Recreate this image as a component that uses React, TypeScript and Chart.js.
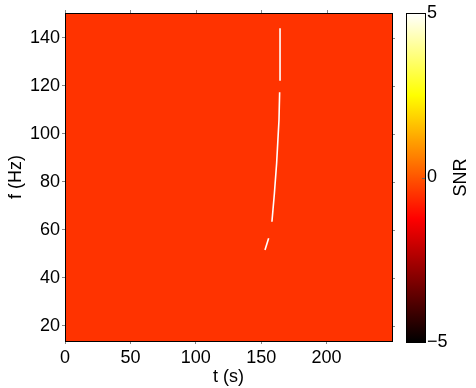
import React, { useEffect, useRef } from "react";
import { Chart, registerables } from "chart.js";

Chart.register(...registerables);

// ---- data ----
const timeTicks = [0, 50, 100, 150, 200];
const freqTicks = [20, 40, 60, 80, 100, 120, 140];
const snrTicks = [-5, 0, 5];
const timeRange = [0, 250];
const freqRange = [13.7, 150.4];
const snrRange = [-5, 5];
const backgroundSNR = -0.5;

// chirp track segments (time in s, frequency in Hz)
const seg1T = [164.4, 164.4];
const seg1F = [144.0, 122.2];
const seg2T = [164.1, 163.6, 161.8, 160.1, 158.2];
const seg2F = [117.4, 105.8, 87.8, 75.3, 63.4];
const seg3T = [155.7, 152.9];
const seg3F = [56.5, 51.6];

const FONT = { family: "'Liberation Sans', Arial, Helvetica, sans-serif", size: 18 };
const W = 476;
const H = 388;

function hot(v: number): string {
  const f = Math.min(1, Math.max(0, (v - snrRange[0]) / (snrRange[1] - snrRange[0])));
  const c = (x: number) => Math.round(255 * Math.min(1, Math.max(0, x)));
  return `rgb(${c(f / 0.375)},${c((f - 0.375) / 0.375)},${c((f - 0.75) / 0.25)})`;
}

const mainPlugin = {
  id: "mainDecor",
  beforeDatasetsDraw(chart: any) {
    const { ctx, chartArea: a } = chart;
    ctx.save();
    ctx.fillStyle = hot(backgroundSNR);
    ctx.fillRect(a.left, a.top, a.right - a.left, a.bottom - a.top);
    ctx.restore();
  },
  afterDraw(chart: any) {
    const { ctx, chartArea: a, scales } = chart;
    ctx.save();
    ctx.strokeStyle = "#888";
    ctx.lineWidth = 1;
    ctx.beginPath();
    for (const v of timeTicks) {
      const x = Math.round(scales.x.getPixelForValue(v)) + 0.5;
      ctx.moveTo(x, a.top);
      ctx.lineTo(x, a.top - 3);
    }
    for (const v of freqTicks) {
      const y = Math.round(scales.y.getPixelForValue(v)) + 0.5;
      ctx.moveTo(a.right, y);
      ctx.lineTo(a.right + 3, y);
    }
    ctx.stroke();
    ctx.strokeStyle = "#000";
    ctx.strokeRect(Math.round(a.left) + 0.5, Math.round(a.top) + 0.5, Math.round(a.right - a.left), Math.round(a.bottom - a.top));
    ctx.restore();
  },
};

const cbPlugin = {
  id: "cbDecor",
  beforeDraw(chart: any) {
    const { ctx, chartArea: a, scales } = chart;
    const ys = scales.y;
    ctx.save();
    const g = ctx.createLinearGradient(0, ys.getPixelForValue(snrRange[0]), 0, ys.getPixelForValue(snrRange[1]));
    const n = 64;
    for (let i = 0; i <= n; i++) {
      g.addColorStop(i / n, hot(snrRange[0] + (i / n) * (snrRange[1] - snrRange[0])));
    }
    ctx.fillStyle = g;
    ctx.fillRect(a.left, a.top, a.right - a.left, a.bottom - a.top);
    ctx.restore();
  },
  afterDraw(chart: any) {
    const { ctx, chartArea: a, scales } = chart;
    ctx.save();
    ctx.strokeStyle = "#666";
    ctx.beginPath();
    for (const v of snrTicks) {
      const y = Math.round(scales.y.getPixelForValue(v)) + 0.5;
      ctx.moveTo(a.right, y);
      ctx.lineTo(a.right - 3, y);
    }
    ctx.stroke();
    ctx.strokeStyle = "#000";
    ctx.strokeRect(Math.round(a.left) + 0.5, Math.round(a.top) + 0.5, Math.round(a.right - a.left), Math.round(a.bottom - a.top));
    ctx.translate(461, (a.top + a.bottom) / 2);
    ctx.rotate(-Math.PI / 2);
    ctx.fillStyle = "#000";
    ctx.font = `${FONT.size}px ${FONT.family}`;
    ctx.textAlign = "center";
    ctx.textBaseline = "middle";
    ctx.fillText("SNR", 0, 0);
    ctx.restore();
  },
};

function toPts(t: number[], f: number[]) {
  return t.map((x, i) => ({ x, y: f[i] }));
}

export default function App() {
  const mainRef = useRef<HTMLCanvasElement>(null);
  const cbRef = useRef<HTMLCanvasElement>(null);

  useEffect(() => {
    const segs = [
      [seg1T, seg1F],
      [seg2T, seg2F],
      [seg3T, seg3F],
    ];
    const main = new Chart(mainRef.current!, {
      type: "scatter",
      data: {
        datasets: segs.map(([t, f]) => ({
          data: toPts(t, f),
          showLine: true,
          borderColor: "#ffffff",
          borderWidth: 1.6,
          pointRadius: 0,
          tension: 0,
        })),
      },
      options: {
        animation: false,
        responsive: false,
        maintainAspectRatio: false,
        layout: { padding: { left: 0, top: 13, right: 84, bottom: 0 } },
        plugins: { legend: { display: false }, tooltip: { enabled: false } },
        scales: {
          x: {
            type: "linear",
            min: timeRange[0],
            max: timeRange[1],
            afterBuildTicks: (s: any) => {
              s.ticks = timeTicks.map((v) => ({ value: v }));
            },
            afterFit: (s: any) => {
              s.height = 47;
            },
            grid: { drawOnChartArea: false, tickLength: 3, color: "#888" },
            border: { color: "#000" },
            ticks: { color: "#000", font: FONT, padding: 3, maxRotation: 0, autoSkip: false },
            title: { display: true, text: "t (s)", color: "#000", font: FONT, padding: { top: 0, bottom: 0 } },
          },
          y: {
            type: "linear",
            min: freqRange[0],
            max: freqRange[1],
            afterBuildTicks: (s: any) => {
              s.ticks = freqTicks.map((v) => ({ value: v }));
            },
            afterFit: (s: any) => {
              s.width = 65;
            },
            grid: { drawOnChartArea: false, tickLength: 3, color: "#888" },
            border: { color: "#000" },
            ticks: { color: "#000", font: FONT, padding: 2, autoSkip: false },
            title: { display: true, text: "f (Hz)", color: "#000", font: FONT, padding: { top: 5, bottom: 0 } },
          },
        },
      },
      plugins: [mainPlugin],
    });

    const cb = new Chart(cbRef.current!, {
      type: "scatter",
      data: { datasets: [{ data: [] }] },
      options: {
        animation: false,
        responsive: false,
        maintainAspectRatio: false,
        layout: { padding: { left: 406, top: 13, right: 0, bottom: 46 } },
        plugins: { legend: { display: false }, tooltip: { enabled: false } },
        scales: {
          x: { type: "linear", display: false, min: 0, max: 1 },
          y: {
            type: "linear",
            position: "right",
            min: snrRange[0],
            max: snrRange[1],
            afterBuildTicks: (s: any) => {
              s.ticks = snrTicks.map((v) => ({ value: v }));
            },
            afterFit: (s: any) => {
              s.width = 51;
            },
            grid: { display: false, drawTicks: false },
            border: { display: false },
            ticks: {
              color: "#000",
              font: FONT,
              padding: 2,
              autoSkip: false,
              callback: (v: any) => String(v).replace("-", "\u2212"),
            },
          },
        },
      },
      plugins: [cbPlugin],
    });

    return () => {
      main.destroy();
      cb.destroy();
    };
  }, []);

  return (
    <div style={{ position: "fixed", left: 0, top: 0, width: W, height: H, background: "#fff" }}>
      <canvas ref={mainRef} width={W} height={H} style={{ position: "absolute", left: 0, top: 0 }} />
      <canvas ref={cbRef} width={W} height={H} style={{ position: "absolute", left: 0, top: 0, pointerEvents: "none" }} />
    </div>
  );
}
